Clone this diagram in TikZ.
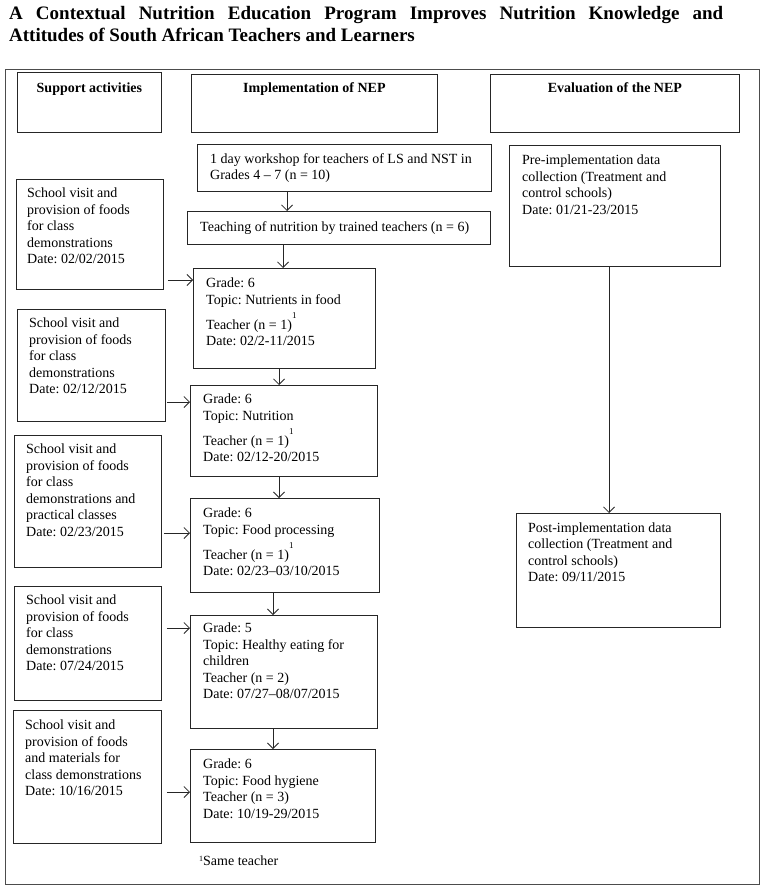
\documentclass[tikz,border=0pt]{standalone}
\usepackage{fontspec}
\setmainfont{Liberation Serif}
\usetikzlibrary{arrows.meta,calc}
\frenchspacing
\newcommand{\myln}[1]{\hbox{#1}}
\newcommand{\mysup}{\raisebox{11pt}{\fontsize{9}{9}\selectfont 1}}
\begin{document}
\begin{tikzpicture}[x=1pt,y=-1pt,
  box/.style={draw=black!85, line width=0.8pt, inner sep=0pt, anchor=north west},
  frm/.style={draw=black!70, line width=1.1pt, inner sep=0pt, anchor=north west},
  txt/.style={anchor=base west, inner sep=0pt, font=\fontsize{14}{16.5}\selectfont},
  hdr/.style={anchor=base, inner sep=0pt, font=\bfseries\fontsize{14}{16.5}\selectfont},
  ttl/.style={anchor=base west, inner sep=0pt, font=\bfseries\fontsize{19}{21}\selectfont},
  arr/.style={draw=black!85, line width=0.8pt, -{Straight Barb[length=5.5pt,width=11pt,line width=0.8pt]}},
]
\useasboundingbox (0,0) rectangle (765,888);
\fill[white] (0,0) rectangle (765,888);

% title
\node[ttl] (t1) at (9,20) {\makebox[714pt][s]{A Contextual Nutrition Education Program Improves Nutrition Knowledge and}};
\node[ttl] (t2) at (9,41.5) {Attitudes of South African Teachers and Learners};

% frame
\node[frm, minimum width=754, minimum height=815] (frame) at (5,69) {};

% headers
\node[box, minimum width=144, minimum height=60] (sup) at (17,72) {};
\node[box, minimum width=246, minimum height=58] (imp) at (191,74) {};
\node[box, minimum width=249, minimum height=58] (eva) at (490,74) {};
\node[hdr] (supt) at ($(sup.north)+(0,21)$) {Support activities};
\node[hdr] (impt) at ($(imp.north)+(0,19)$) {Implementation of NEP};
\node[hdr] (evat) at ($(eva.north)+(0,19)$) {Evaluation of the NEP};

% implementation column
\node[box, minimum width=294, minimum height=47] (ws) at (197,144) {};
\node[txt] (wst) at (210,163) {\vtop{\myln{1 day workshop for teachers of LS and NST in}\myln{Grades 4 -- 7 (n = 10)}}};
\node[box, minimum width=303, minimum height=33] (tt) at (187,211) {};
\node[txt] (ttt) at (200,231) {Teaching of nutrition by trained teachers (n = 6)};

\node[box, minimum width=182, minimum height=100] (g1) at (193,268) {};
\node[txt] (g1t) at (206,287.5) {\vtop{\myln{Grade: 6}\myln{Topic: Nutrients in food}\vskip4.5pt\myln{Teacher (n = 1)\mysup}\myln{Date: 02/2-11/2015}}};
\node[box, minimum width=187, minimum height=91] (g2) at (190,385) {};
\node[txt] (g2t) at (203,403.5) {\vtop{\myln{Grade: 6}\myln{Topic: Nutrition}\vskip4.5pt\myln{Teacher (n = 1)\mysup}\myln{Date: 02/12-20/2015}}};
\node[box, minimum width=189, minimum height=94] (g3) at (190,498) {};
\node[txt] (g3t) at (203,517.5) {\vtop{\myln{Grade: 6}\myln{Topic: Food processing}\vskip4.5pt\myln{Teacher (n = 1)\mysup}\myln{Date: 02/23--03/10/2015}}};
\node[box, minimum width=187, minimum height=113] (g4) at (190,615) {};
\node[txt] (g4t) at (203,632.5) {\vtop{\myln{Grade: 5}\myln{Topic: Healthy eating for}\myln{children}\myln{Teacher (n = 2)}\myln{Date: 07/27--08/07/2015}}};
\node[box, minimum width=185, minimum height=93] (g5) at (190,749) {};
\node[txt] (g5t) at (203,768.5) {\vtop{\myln{Grade: 6}\myln{Topic: Food hygiene}\myln{Teacher (n = 3)}\myln{Date: 10/19-29/2015}}};
\node[txt] (foot) at (199,865.5) {\raisebox{4pt}{\fontsize{8}{8}\selectfont 1}Same teacher};

% support column
\node[box, minimum width=147, minimum height=110] (s1) at (16,179) {};
\node[txt] (s1t) at (27,197.5) {\vtop{\myln{School visit and}\myln{provision of foods}\myln{for class}\myln{demonstrations}\myln{Date: 02/02/2015}}};
\node[box, minimum width=148, minimum height=112] (s2) at (17,309) {};
\node[txt] (s2t) at (29,327.5) {\vtop{\myln{School visit and}\myln{provision of foods}\myln{for class}\myln{demonstrations}\myln{Date: 02/12/2015}}};
\node[box, minimum width=147, minimum height=132] (s3) at (14,435) {};
\node[txt] (s3t) at (26,453.5) {\vtop{\myln{School visit and}\myln{provision of foods}\myln{for class}\myln{demonstrations and}\myln{practical classes}\myln{Date: 02/23/2015}}};
\node[box, minimum width=147, minimum height=114] (s4) at (14,586) {};
\node[txt] (s4t) at (26,604.5) {\vtop{\myln{School visit and}\myln{provision of foods}\myln{for class}\myln{demonstrations}\myln{Date: 07/24/2015}}};
\node[box, minimum width=148, minimum height=133] (s5) at (13,710) {};
\node[txt] (s5t) at (25,729.5) {\vtop{\myln{School visit and}\myln{provision of foods}\myln{and materials for}\myln{class demonstrations}\myln{Date: 10/16/2015}}};

% evaluation column
\node[box, minimum width=211, minimum height=121] (pre) at (509,145) {};
\node[txt] (pret) at (522,164.5) {\vtop{\myln{Pre-implementation data}\myln{collection (Treatment and}\myln{control schools)}\myln{Date: 01/21-23/2015}}};
\node[box, minimum width=204, minimum height=114] (post) at (516,513) {};
\node[txt] (postt) at (528,532) {\vtop{\myln{Post-implementation data}\myln{collection (Treatment and}\myln{control schools)}\myln{Date: 09/11/2015}}};

% vertical arrows
\draw[arr] (ws.south -| 287,0) -- (tt.north -| 287,0);
\draw[arr] (tt.south -| 283,0) -- (g1.north -| 283,0);
\draw[arr] (g1.south -| 279,0) -- (g2.north -| 279,0);
\draw[arr] (g2.south -| 279,0) -- (g3.north -| 279,0);
\draw[arr] (g3.south -| 273,0) -- (g4.north -| 273,0);
\draw[arr] (g4.south -| 273,0) -- (g5.north -| 273,0);
\draw[arr] (pre.south -| 609,0) -- (post.north -| 609,0);

% horizontal arrows
\draw[arr] ($(s1.east |- 0,280)+(4,0)$) -- (g1.west |- 0,280);
\draw[arr] ($(s2.east |- 0,402)+(1,0)$) -- (g2.west |- 0,402);
\draw[arr] ($(s3.east |- 0,533)+(2,0)$) -- (g3.west |- 0,533);
\draw[arr] ($(s4.east |- 0,628)+(5,0)$) -- (g4.west |- 0,628);
\draw[arr] ($(s5.east |- 0,792)+(5,0)$) -- (g5.west |- 0,792);
\end{tikzpicture}
\end{document}
